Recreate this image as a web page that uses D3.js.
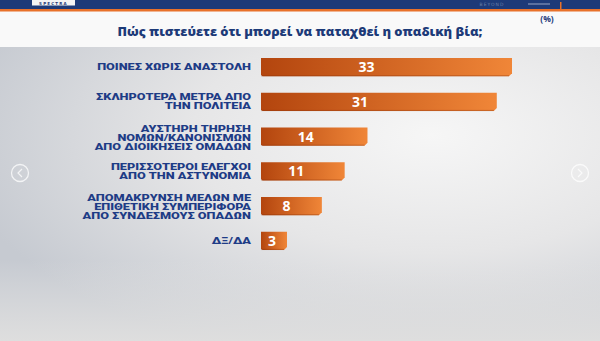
<!DOCTYPE html>
<html><head><meta charset="utf-8">
<script src="https://cdn.jsdelivr.net/npm/d3@7"></script>
<style>html,body{margin:0;padding:0;overflow:hidden;background:#fff}</style>
</head><body><svg id="c" width="600" height="341"></svg>
<script>
const title = "Πώς πιστεύετε ότι μπορεί να παταχθεί η οπαδική βία;";
const unitLabel = "(%)";
const categories = [
  ["ΠΟΙΝΕΣ ΧΩΡΙΣ ΑΝΑΣΤΟΛΗ"],
  ["ΣΚΛΗΡΟΤΕΡΑ ΜΕΤΡΑ ΑΠΟ", "ΤΗΝ ΠΟΛΙΤΕΙΑ"],
  ["ΑΥΣΤΗΡΗ ΤΗΡΗΣΗ", "ΝΟΜΩΝ/ΚΑΝΟΝΙΣΜΩΝ", "ΑΠΟ ΔΙΟΙΚΗΣΕΙΣ ΟΜΑΔΩΝ"],
  ["ΠΕΡΙΣΣΟΤΕΡΟΙ ΕΛΕΓΧΟΙ", "ΑΠΟ ΤΗΝ ΑΣΤΥΝΟΜΙΑ"],
  ["ΑΠΟΜΑΚΡΥΝΣΗ ΜΕΛΩΝ ΜΕ", "ΕΠΙΘΕΤΙΚΗ ΣΥΜΠΕΡΙΦΟΡΑ", "ΑΠΟ ΣΥΝΔΕΣΜΟΥΣ ΟΠΑΔΩΝ"],
  ["ΔΞ/ΔΑ"]
];
const values = [33, 31, 14, 11, 8, 3];

const svg = d3.select("#c");
const defs = svg.append("defs");

const bg = defs.append("radialGradient").attr("id","bg")
  .attr("cx","0.72").attr("cy","0.3").attr("r","0.8");
bg.append("stop").attr("offset","0").attr("stop-color","#f6f6f6");
bg.append("stop").attr("offset","0.5").attr("stop-color","#e6e6e7");
bg.append("stop").attr("offset","1").attr("stop-color","#c6cad1");
const barG = defs.append("linearGradient").attr("id","barg").attr("x1","0").attr("x2","1");
barG.append("stop").attr("offset","0").attr("stop-color","#b3450e");
barG.append("stop").attr("offset","1").attr("stop-color","#f08638");

svg.append("rect").attr("width",600).attr("height",341).attr("fill","#f9f9f9");
svg.append("rect").attr("y",47).attr("width",600).attr("height",294).attr("fill","url(#bg)");
const bf = defs.append("linearGradient").attr("id","bf").attr("x1","0").attr("x2","0").attr("y1","0").attr("y2","1");
bf.append("stop").attr("offset","0").attr("stop-color","#e2e2e2").attr("stop-opacity",0);
bf.append("stop").attr("offset","1").attr("stop-color","#dedede").attr("stop-opacity",1);
svg.append("rect").attr("y",260).attr("width",600).attr("height",81).attr("fill","url(#bf)");

// header band
svg.append("rect").attr("width",600).attr("height",9).attr("fill","#1d3a78");
svg.append("rect").attr("y",9).attr("width",600).attr("height",2.5).attr("fill","#e8712a");
svg.append("rect").attr("x",32).attr("y",0).attr("width",43).attr("height",5.5).attr("fill","#f4f4f4");
svg.append("text").attr("x",53.5).attr("y",4.6).attr("text-anchor","middle")
  .attr("font-family","DejaVu Sans").attr("font-size",4).attr("font-weight","bold")
  .attr("fill","#1d3a78").attr("letter-spacing",1.2).text("SPECTRA");
svg.append("text").attr("x",492).attr("y",6).attr("text-anchor","middle")
  .attr("font-family","DejaVu Sans").attr("font-size",4.5).attr("fill","#6b80aa")
  .attr("letter-spacing",1).text("BEYOND");
svg.append("rect").attr("x",528).attr("y",3).attr("width",22).attr("height",2).attr("fill","#5a70a0");
svg.append("rect").attr("x",560).attr("y",2).attr("width",1.5).attr("height",7).attr("fill","#e8712a");

// title
const t = svg.append("text").attr("x",300).attr("y",36).attr("text-anchor","middle")
  .attr("font-family","Open Sans").attr("font-weight",800).attr("font-size",100)
  .attr("fill","#1c3a78").text(title);
const tw = t.node().getComputedTextLength();
t.attr("font-size", 100*365/tw);
svg.append("text").attr("x",547).attr("y",22).attr("text-anchor","middle")
  .attr("font-family","Open Sans").attr("font-weight","bold").attr("font-size",8.5)
  .attr("fill","#1f3d7d").text(unitLabel);

// nav arrows
[[20,"M22,169 L18,173 L22,177"],[580,"M578,169 L582,173 L578,177"]].forEach(([cx,p])=>{
  svg.append("circle").attr("cx",cx).attr("cy",173).attr("r",8.5).attr("fill","none")
    .attr("stroke","#ffffff").attr("stroke-opacity",0.75).attr("stroke-width",1.3);
  svg.append("path").attr("d",p).attr("fill","none").attr("stroke","#ffffff")
    .attr("stroke-opacity",0.75).attr("stroke-width",1.2);
});

// scales
const idx = d3.range(values.length);
const y = d3.scaleBand().domain(idx).range([51, 257]).paddingInner(0.47).paddingOuter(0.2);
const x = d3.scaleLinear().domain([0, 33]).range([261, 512]);
const bh = y.bandwidth();

const g = svg.append("g");
const labelFont = 8.6, lh = 9.0, labelRight = 251;
let stretch = null;
idx.forEach(i=>{
  const x0 = x(0), x1 = Math.max(x(values[i]), x0+26), y0 = y(i), h = bh, c = 3;
  const path = `M${x0},${y0} L${x1},${y0} L${x1},${y0+h-c} L${x1-c},${y0+h} L${x0+1.5},${y0+h} L${x0},${y0+h-1.5} Z`;
  g.append("path").attr("d",path).attr("fill","url(#barg)");
  g.append("rect").attr("x",x0).attr("y",y0+h-1.2).attr("width",x1-x0-c).attr("height",1.2)
    .attr("fill","#8a3208").attr("opacity",0.35);
  const w = x1 - x0;
  const lx = Math.max(x0 + w*0.42, x0 + 8);
  g.append("text").attr("x",lx).attr("y",y0+h/2).attr("dy","0.36em").attr("text-anchor","middle")
    .attr("font-family","Open Sans").attr("font-weight","bold").attr("font-size",14)
    .attr("fill","#ffffff").text(values[i]);

  const lines = categories[i];
  const cy = y0 + h/2 + (lines.length === 3 ? 1 : 0);
  const startY = cy - (lines.length-1)*lh/2;
  const lg = g.append("g");
  const tx = lg.append("text").attr("text-anchor","end")
    .attr("font-family","Roboto").attr("font-weight","900").attr("font-size",labelFont)
    .attr("fill","#1e3c86");
  lines.forEach((ln,k)=>{
    tx.append("tspan").attr("x",labelRight).attr("y",startY + k*lh).attr("dy","0.36em").text(ln);
  });
  if (stretch === null) stretch = 154 / tx.node().getComputedTextLength();
  lg.attr("transform",`translate(${labelRight},0) scale(${stretch},1) translate(${-labelRight},0)`);
});
</script>
</body></html>
